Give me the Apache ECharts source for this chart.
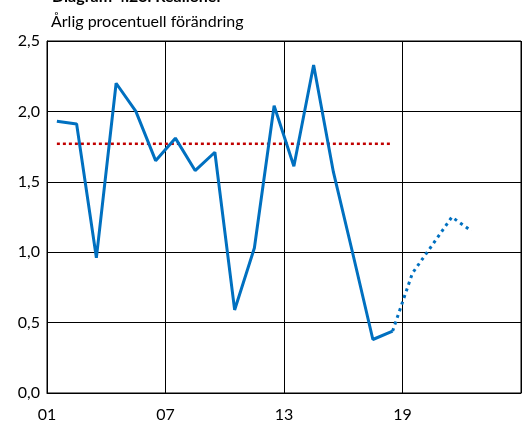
<!DOCTYPE html>
<html>
<head>
<meta charset="utf-8">
<script src="https://cdn.jsdelivr.net/npm/echarts@6/dist/echarts.min.js"></script>
<style>
  html, body { margin: 0; padding: 0; background: #fff; }
  #chart { width: 523px; height: 423px; }
</style>
</head>
<body>
<div id="chart"></div>
<script>
// Years (two-digit) and annual percentage change
const years = [1, 2, 3, 4, 5, 6, 7, 8, 9, 10, 11, 12, 13, 14, 15, 16, 17, 18, 19, 20, 21, 22];
const outcome = [1.93, 1.91, 0.96, 2.20, 2.00, 1.65, 1.81, 1.58, 1.71, 0.59, 1.03, 2.04, 1.61, 2.33, 1.57, 0.98, 0.38, 0.44];
const forecast = [0.44, 0.85, 1.05, 1.25, 1.15]; // from year 18 onwards
const averageLevel = 1.77;
const averageSpan = [1, 18];
const yTicks = ['0,0', '0,5', '1,0', '1,5', '2,0', '2,5'];
const xTickYears = [1, 7, 13, 19];

const FONT = 'Lato, "Open Sans", sans-serif';

// points sit in the middle of each year
const outcomeData = outcome.map((v, i) => [years[i] + 0.5, v]);
const forecastData = forecast.map((v, i) => [years[17 + i] + 0.5, v]);
const averageData = averageSpan.map(y => [y + 0.5, averageLevel]);

const chart = echarts.init(document.getElementById('chart'), null, { renderer: 'canvas' });
chart.setOption({
  animation: false,
  backgroundColor: '#fff',
  title: [
    {
      text: 'Diagram 4.23. Reallöner',
      left: 47, top: -16,
      textStyle: { fontFamily: FONT, fontWeight: 'bold', fontSize: 16, color: '#000' }
    },
    {
      text: 'Årlig procentuell förändring',
      left: 46, top: 9,
      textStyle: { fontFamily: FONT, fontWeight: 'normal', fontSize: 16, color: '#000' }
    }
  ],
  grid: { left: 47, right: 2, top: 41, bottom: 27, containLabel: false, show: true, borderColor: '#000', borderWidth: 1 },
  xAxis: {
    type: 'value', min: 1, max: 25, interval: 6,
    axisLine: { show: true, lineStyle: { color: '#000', width: 1 } },
    axisTick: { show: false },
    splitLine: { show: true, lineStyle: { color: '#000', width: 1 } },
    axisLabel: {
      fontFamily: FONT, fontSize: 16, color: '#000', margin: 14,
      showMaxLabel: false,
      formatter: v => xTickYears.includes(v) ? String(v).padStart(2, '0') : ''
    }
  },
  yAxis: {
    type: 'value', min: 0, max: 2.5, interval: 0.5,
    axisLine: { show: true, lineStyle: { color: '#000', width: 1 } },
    axisTick: { show: false },
    splitLine: { show: true, lineStyle: { color: '#000', width: 1 } },
    axisLabel: {
      fontFamily: FONT, fontSize: 16, color: '#000', margin: 7,
      formatter: v => yTicks[Math.round(v / 0.5)]
    }
  },
  series: [
    {
      type: 'line', data: averageData, symbol: 'none', silent: true,
      lineStyle: { color: '#C00000', width: 2.5, type: [3, 3] }, z: 2
    },
    {
      type: 'line', data: outcomeData, symbol: 'none', silent: true,
      lineStyle: { color: '#0070C0', width: 3 }, z: 3
    },
    {
      type: 'line', data: forecastData, symbol: 'none', silent: true,
      lineStyle: { color: '#0070C0', width: 3, type: [3, 4] }, z: 3
    }
  ]
});
</script>
</body>
</html>
